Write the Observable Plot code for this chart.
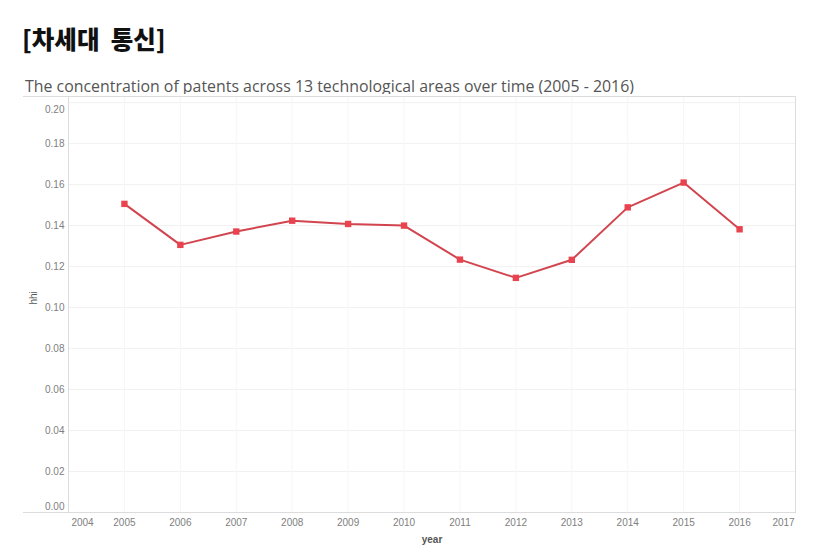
<!DOCTYPE html>
<html>
<head>
<meta charset="utf-8">
<script src="https://cdn.jsdelivr.net/npm/d3@7"></script>
<script src="https://cdn.jsdelivr.net/npm/@observablehq/plot@0.6"></script>
<style>
  body { margin: 0; background: #fff; width: 838px; height: 556px; overflow: hidden; }
  #title { position: absolute; left: 22px; top: 24px; font-family: "Noto Sans CJK KR", sans-serif; font-weight: 900; font-size: 24.5px; color: #111; line-height: 30px; white-space: pre; }
  #subtitle { position: absolute; left: 25px; top: 76px; font-family: "Open Sans", "Noto Sans", sans-serif; font-size: 15.9px; color: #555; line-height: 20px; white-space: nowrap; }
  #chart { position: absolute; left: 0; top: 94px; }
</style>
</head>
<body>
<div id="title">[차세대  통신]</div>
<div id="subtitle">The concentration of patents across 13 technological areas over time (2005 - 2016)</div>
<div id="chart"></div>
<script>
const years = [2005, 2006, 2007, 2008, 2009, 2010, 2011, 2012, 2013, 2014, 2015, 2016];
const hhi = [0.1506, 0.1306, 0.1371, 0.1424, 0.1408, 0.1400, 0.1234, 0.1145, 0.1233, 0.1489, 0.1610, 0.1382];
const yTicks = [0, 0.02, 0.04, 0.06, 0.08, 0.10, 0.12, 0.14, 0.16, 0.18, 0.20];
const xTicks = [2004, 2005, 2006, 2007, 2008, 2009, 2010, 2011, 2012, 2013, 2014, 2015, 2016, 2017];

const data = years.map((y, i) => ({year: y, hhi: hhi[i]}));
const tickFont = {fontFamily: "Liberation Sans, Arial, sans-serif", fontSize: 10, fill: "#808080"};

const chart = Plot.plot({
  width: 838,
  height: 462,
  marginLeft: 68,
  marginRight: 43,
  marginTop: 2,
  marginBottom: 44,
  style: {fontFamily: "Liberation Sans, Arial, sans-serif", fontSize: "10px", background: "#fff"},
  x: {domain: [2004, 2017], label: null},
  y: {domain: [0, 0.203], label: null},
  marks: [
    Plot.gridY(yTicks, {stroke: "#f1f1f1", strokeOpacity: 1}),
    Plot.gridX(xTicks, {stroke: "#f6f6f6", strokeOpacity: 1}),
    Plot.ruleY([0, 0.203], {stroke: "#dcdcdc", insetLeft: -45}),
    Plot.frame({stroke: "#dcdcdc"}),
    Plot.axisY(yTicks.slice(1, -1), {tickSize: 0, tickPadding: 4, tickFormat: d3.format(".2f"), label: null, ...tickFont}),
    Plot.axisY([0], {tickSize: 0, tickPadding: 4, tickFormat: d3.format(".2f"), label: null, dy: -6, ...tickFont}),
    Plot.axisY([0.20], {tickSize: 0, tickPadding: 4, tickFormat: d3.format(".2f"), label: null, dy: 7, ...tickFont}),
    Plot.axisX(xTicks.slice(1, -1), {tickSize: 0, tickPadding: 6, tickFormat: d => String(d), label: null, ...tickFont}),
    Plot.axisX([2004], {tickSize: 0, tickPadding: 6, tickFormat: d => String(d), label: null, dx: 14, ...tickFont}),
    Plot.axisX([2017], {tickSize: 0, tickPadding: 6, tickFormat: d => String(d), label: null, dx: -12, ...tickFont}),
    Plot.text(["year"], {frameAnchor: "bottom", dy: 30, fontWeight: "bold", fontSize: 10, fill: "#555"}),
    Plot.text(["hhi"], {frameAnchor: "left", dx: -35, rotate: -90, fontSize: 10, fill: "#555"}),
    Plot.line(data, {x: "year", y: "hhi", stroke: "#d2454f", strokeWidth: 2}),
    Plot.dot(data, {x: "year", y: "hhi", symbol: "square", r: 3.6, fill: "#e8434e", stroke: "none"})
  ]
});
document.getElementById("chart").appendChild(chart);
</script>
</body>
</html>
